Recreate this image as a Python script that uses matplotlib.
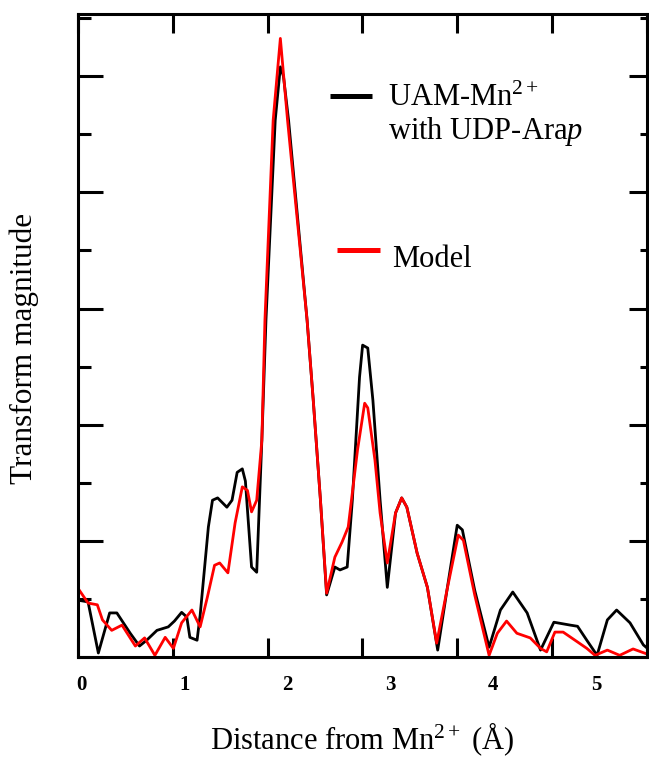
import matplotlib
matplotlib.use("Agg")
import matplotlib.pyplot as plt
import numpy as np

plt.rcParams["font.family"] = ["Liberation Serif", "DejaVu Serif"]
plt.rcParams["mathtext.fontset"] = "custom"
plt.rcParams["mathtext.rm"] = "Liberation Serif"
plt.rcParams["mathtext.it"] = "Liberation Serif:italic"
plt.rcParams["mathtext.bf"] = "Liberation Serif:bold"

# Fourier-transform magnitude vs. distance (Å)
r_exp = [-0.04, 0.06, 0.16, 0.27, 0.34, 0.47, 0.56, 0.63, 0.73, 0.84, 0.90, 0.97,
         1.02, 1.05, 1.12, 1.15, 1.23, 1.27, 1.32, 1.41, 1.46, 1.51, 1.56, 1.59,
         1.65, 1.70, 1.75, 1.79, 1.88, 1.93, 1.96, 2.01, 2.19, 2.25, 2.32, 2.38,
         2.46, 2.51, 2.58, 2.63, 2.70, 2.73, 2.78, 2.83, 2.90, 2.97, 3.05, 3.11,
         3.16, 3.26, 3.36, 3.46, 3.55, 3.65, 3.70, 3.82, 3.96, 4.07, 4.19, 4.33,
         4.46, 4.59, 4.75, 4.82, 4.91, 5.01, 5.11, 5.20, 5.33, 5.46, 5.50]
ft_exp = [0.98, 0.95, 0.07, 0.76, 0.76, 0.41, 0.19, 0.29, 0.46, 0.52, 0.62, 0.77,
          0.69, 0.34, 0.29, 0.72, 2.24, 2.70, 2.74, 2.58, 2.70, 3.18, 3.24, 3.03,
          1.55, 1.46, 3.73, 5.80, 9.24, 10.16, 10.00, 9.24, 5.80, 4.42, 2.70, 1.07,
          1.55, 1.50, 1.55, 2.70, 4.82, 5.37, 5.32, 4.42, 2.70, 1.20, 2.48, 2.74,
          2.58, 1.79, 1.20, 0.12, 1.15, 2.27, 2.19, 1.15, 0.17, 0.81, 1.12, 0.76,
          0.12, 0.60, 0.55, 0.53, 0.29, 0.03, 0.64, 0.81, 0.59, 0.21, 0.15]

r_fit = [-0.04, 0.06, 0.15, 0.20, 0.29, 0.39, 0.52, 0.61, 0.71, 0.81, 0.89, 0.97,
         1.07, 1.15, 1.22, 1.29, 1.34, 1.42, 1.49, 1.56, 1.61, 1.65, 1.70, 1.75,
         1.78, 1.86, 1.93, 2.00, 2.19, 2.25, 2.32, 2.38, 2.46, 2.53, 2.59, 2.68,
         2.75, 2.78, 2.85, 2.90, 2.97, 3.05, 3.11, 3.16, 3.26, 3.36, 3.45, 3.55,
         3.66, 3.71, 3.82, 3.96, 4.04, 4.13, 4.23, 4.36, 4.46, 4.52, 4.60, 4.68,
         4.82, 4.91, 4.99, 5.11, 5.23, 5.36, 5.50]
ft_fit = [1.19, 0.93, 0.90, 0.64, 0.46, 0.55, 0.19, 0.33, 0.03, 0.34, 0.15, 0.59,
          0.81, 0.52, 1.03, 1.58, 1.62, 1.45, 2.31, 2.93, 2.87, 2.50, 2.70, 3.73,
          5.80, 9.24, 10.65, 9.24, 5.80, 4.42, 2.70, 1.10, 1.72, 1.98, 2.24, 3.56,
          4.37, 4.29, 3.39, 2.48, 1.62, 2.48, 2.74, 2.58, 1.79, 1.20, 0.24, 1.15,
          2.10, 2.01, 1.07, 0.03, 0.41, 0.62, 0.41, 0.33, 0.15, 0.09, 0.43, 0.43,
          0.26, 0.15, 0.03, 0.12, 0.03, 0.14, 0.05]

x_labels = [0, 1, 2, 3, 4, 5]

fig = plt.figure(figsize=(6.49, 7.57), dpi=100)
ax = fig.add_axes([0.120, 0.132, 0.877, 0.8495])

ax.plot(r_exp, ft_exp, color="black", lw=2.0, solid_joinstyle="round")
ax.plot(r_fit, ft_fit, color="#ff0000", lw=2.0, solid_joinstyle="round")

x0, x1 = -0.039, 5.496
ax.set_xlim(x0, x1)
ax.set_ylim(0, 11.07)

for s in ax.spines.values():
    s.set_linewidth(2.2)

# x: labelled integers without marks, marks at six equal divisions
ax.set_xticks(x_labels)
ax.set_xticklabels([str(v) for v in x_labels], fontweight="bold", fontsize=15)
ax.set_xticks(np.linspace(x0, x1, 7), minor=True)
ax.tick_params(axis="x", which="major", length=0, pad=13)
ax.tick_params(axis="x", which="minor", direction="in", length=14,
               width=2.2, top=True, bottom=True)

# y: unlabelled, alternating long/short marks on the left
ax.set_yticks(np.arange(0, 11, 2))
ax.set_yticks(np.arange(1, 12, 2), minor=True)
ax.tick_params(axis="y", which="major", direction="in", length=18, width=2.2,
               labelleft=False, left=True, right=False)
ax.tick_params(axis="y", which="minor", direction="in", length=9, width=2.2,
               labelleft=False, left=True, right=False)

axr = ax.twinx()
axr.set_ylim(ax.get_ylim())
axr.set_yticks(np.arange(0, 11, 2))
axr.set_yticks(np.arange(1, 12, 2), minor=True)
axr.tick_params(axis="y", which="major", direction="in", length=13, width=2.2,
                labelright=False)
axr.tick_params(axis="y", which="minor", direction="in", length=5, width=2.2,
                labelright=False)
for s in axr.spines.values():
    s.set_visible(False)

ax.set_xlabel(r"Distance from Mn$^{\mathregular{2+}}$ (Å)", fontsize=22, labelpad=18)
ax.set_ylabel("Transform magnitude", fontsize=22.5)
ax.yaxis.set_label_coords(-0.069, 0.48)

# legend drawn by hand
ax.plot([2.41, 2.82], [9.66, 9.66], color="black", lw=3.6,
        solid_capstyle="butt", clip_on=False)
ax.text(2.98, 9.62, r"UAM-Mn$^{\mathregular{2+}}$", fontsize=22,
        va="center", ha="left")
ax.text(2.98, 9.04, r"with UDP-Ara$\mathit{p}$", fontsize=22,
        va="center", ha="left")
ax.plot([2.48, 2.90], [7.0, 7.0], color="#ff0000", lw=3.6,
        solid_capstyle="butt", clip_on=False)
ax.text(3.02, 6.85, "Model", fontsize=22, va="center", ha="left")

fig.savefig("out.png", dpi=100)
